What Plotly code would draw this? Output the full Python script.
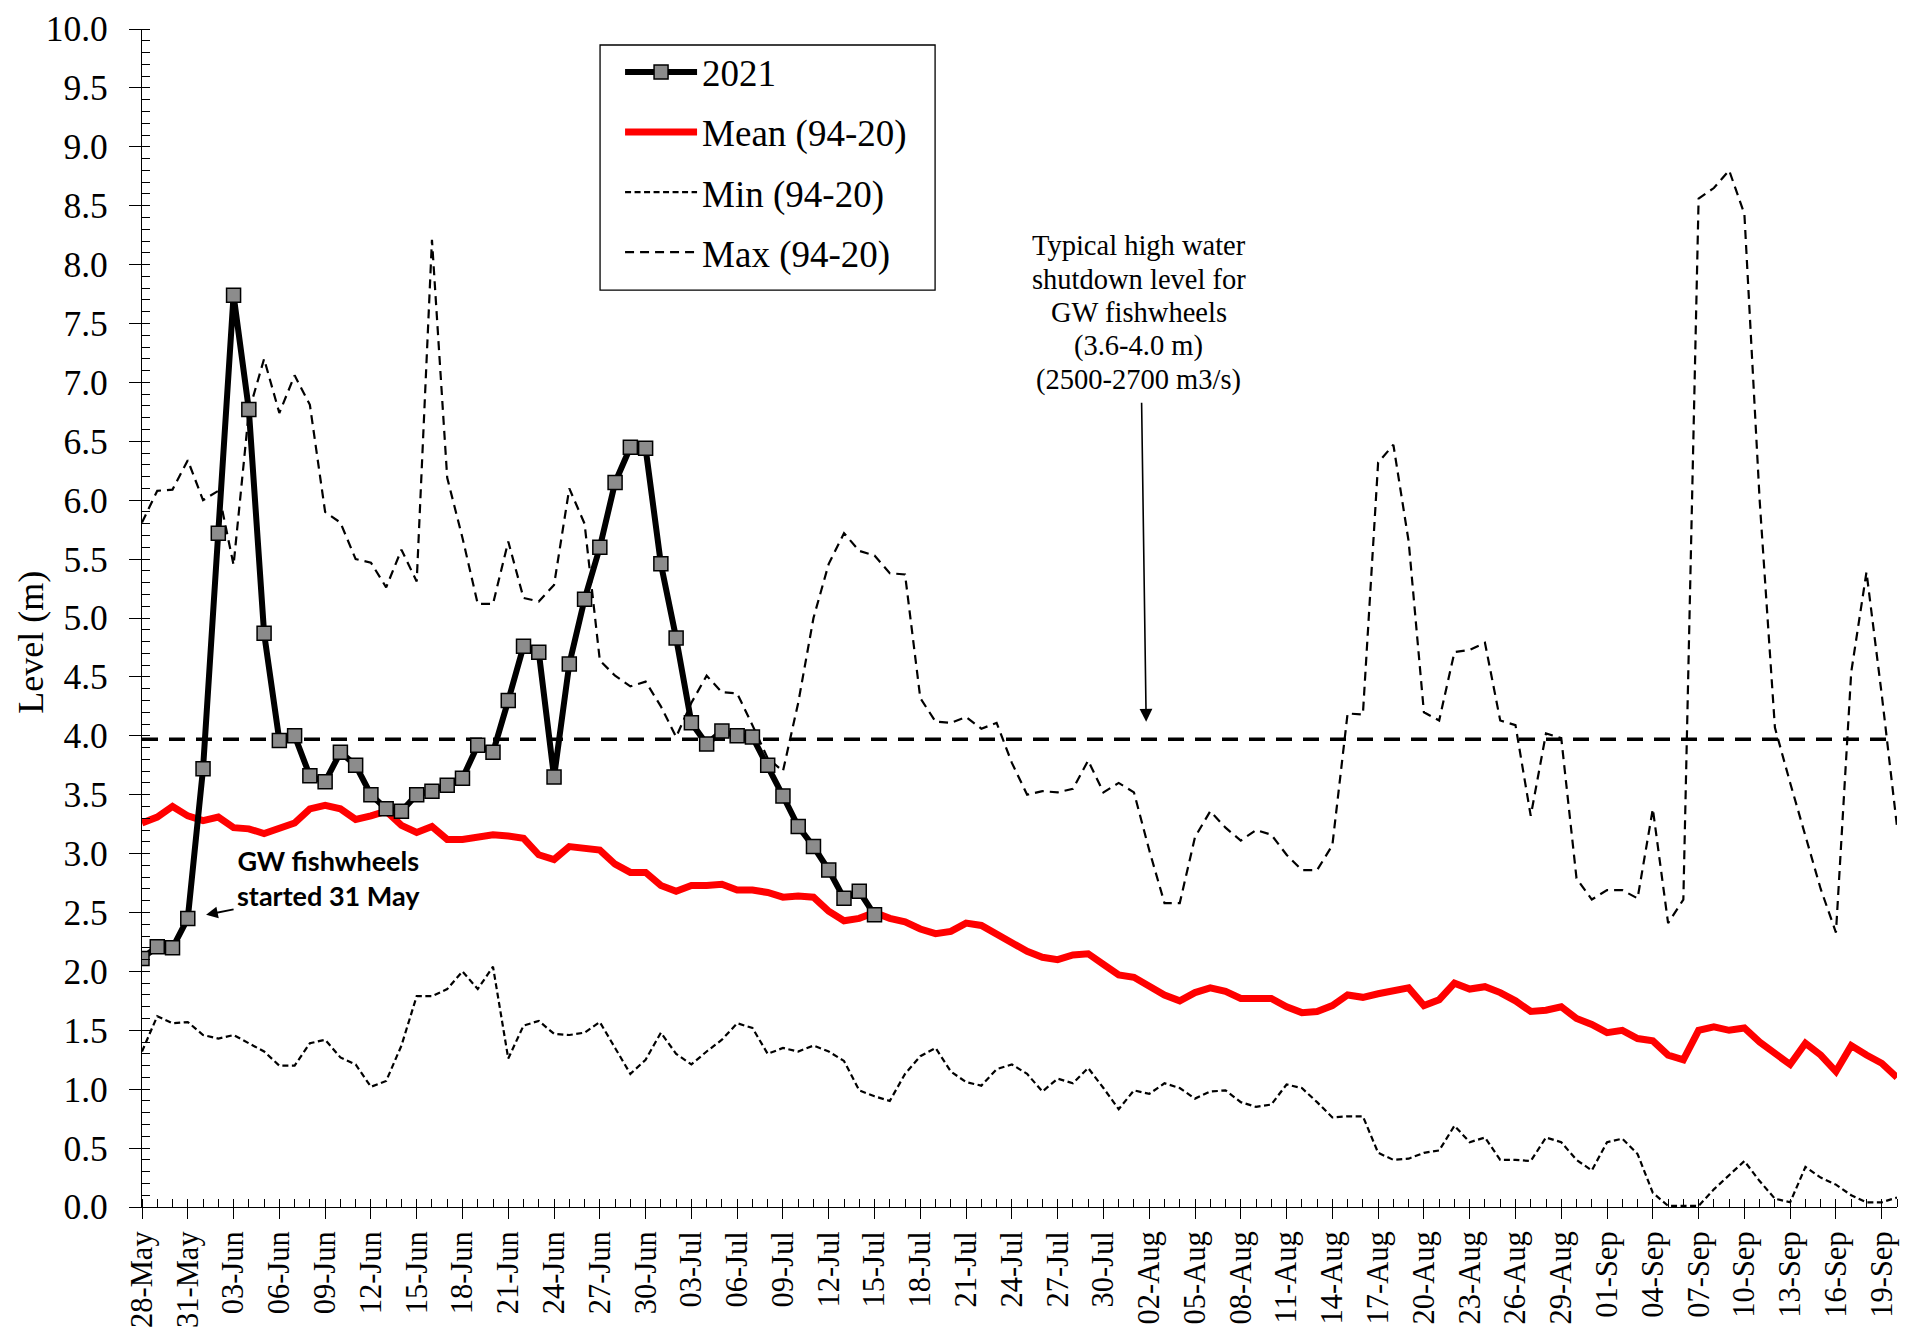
import pandas as pd
import plotly.graph_objects as go

# ---------------- data ----------------
start_date = "2021-05-28"
end_date = "2021-09-20"
dates = pd.date_range(start_date, end_date, freq="D")  # 116 days

level_2021 = [2.11, 2.21, 2.20, 2.45, 3.72, 5.72, 7.74, 6.77, 4.87, 3.96,
              4.00, 3.66, 3.61, 3.86, 3.75, 3.50, 3.38, 3.36, 3.50, 3.53,
              3.58, 3.64, 3.92, 3.86, 4.30, 4.76, 4.71, 3.65, 4.61, 5.16,
              5.60, 6.15, 6.45, 6.44, 5.46, 4.83, 4.11, 3.93, 4.04, 4.00,
              3.99, 3.75, 3.49, 3.23, 3.06, 2.86, 2.62, 2.68, 2.48]

level_mean = [3.26, 3.31, 3.40, 3.32, 3.28, 3.31, 3.22, 3.21, 3.17, 3.21,
              3.26, 3.38, 3.41, 3.38, 3.29, 3.32, 3.36, 3.24, 3.18, 3.23,
              3.12, 3.12, 3.14, 3.16, 3.15, 3.13, 2.99, 2.95, 3.06, 3.04,
              3.03, 2.91, 2.84, 2.84, 2.73, 2.68, 2.73, 2.73, 2.74, 2.69,
              2.69, 2.67, 2.63, 2.64, 2.63, 2.51, 2.43, 2.45, 2.50, 2.45,
              2.42, 2.36, 2.32, 2.34, 2.41, 2.39, 2.32, 2.24, 2.17, 2.12,
              2.10, 2.14, 2.15, 2.06, 1.97, 1.95, 1.87, 1.80, 1.75, 1.82,
              1.86, 1.83, 1.77, 1.77, 1.77, 1.70, 1.65, 1.66, 1.71, 1.80,
              1.78, 1.81, 1.84, 1.86, 1.71, 1.76, 1.90, 1.85, 1.87, 1.82,
              1.75, 1.66, 1.67, 1.70, 1.60, 1.55, 1.48, 1.50, 1.43, 1.41,
              1.29, 1.25, 1.50, 1.53, 1.50, 1.52, 1.40, 1.30, 1.21, 1.39,
              1.29, 1.15, 1.37, 1.29, 1.22, 1.10]

level_min = [1.32, 1.62, 1.56, 1.57, 1.46, 1.43, 1.46, 1.39, 1.32, 1.20,
             1.20, 1.39, 1.42, 1.27, 1.21, 1.02, 1.07, 1.37, 1.79, 1.79,
             1.85, 2.00, 1.85, 2.04, 1.26, 1.54, 1.58, 1.47, 1.46, 1.48,
             1.57, 1.35, 1.13, 1.25, 1.48, 1.30, 1.21, 1.32, 1.42, 1.56,
             1.52, 1.30, 1.35, 1.32, 1.37, 1.32, 1.24, 0.99, 0.94, 0.90,
             1.13, 1.28, 1.35, 1.15, 1.06, 1.03, 1.17, 1.21, 1.13, 0.98,
             1.09, 1.05, 1.18, 1.01, 0.83, 0.99, 0.96, 1.05, 1.01, 0.92,
             0.98, 0.99, 0.89, 0.85, 0.87, 1.04, 1.01, 0.89, 0.76, 0.77,
             0.77, 0.46, 0.40, 0.41, 0.46, 0.48, 0.69, 0.55, 0.59, 0.40,
             0.40, 0.39, 0.59, 0.55, 0.40, 0.31, 0.55, 0.58, 0.45, 0.12,
             0.01, 0.01, 0.01, 0.15, 0.27, 0.39, 0.22, 0.07, 0.04, 0.34,
             0.25, 0.19, 0.10, 0.04, 0.04, 0.08]

level_max = [5.81, 6.08, 6.09, 6.34, 6.00, 6.08, 5.45, 6.75, 7.20, 6.74,
             7.06, 6.81, 5.90, 5.81, 5.50, 5.47, 5.26, 5.58, 5.31, 8.21,
             6.19, 5.68, 5.12, 5.12, 5.65, 5.17, 5.14, 5.28, 6.10, 5.80,
             4.64, 4.51, 4.42, 4.46, 4.25, 3.99, 4.28, 4.51, 4.37, 4.36,
             4.09, 3.81, 3.70, 4.28, 5.00, 5.46, 5.72, 5.57, 5.53, 5.38,
             5.37, 4.32, 4.12, 4.11, 4.16, 4.06, 4.11, 3.77, 3.50, 3.53,
             3.52, 3.55, 3.79, 3.52, 3.60, 3.52, 3.03, 2.58, 2.58, 3.14,
             3.36, 3.22, 3.11, 3.20, 3.16, 2.99, 2.86, 2.86, 3.07, 4.19,
             4.18, 6.32, 6.47, 5.65, 4.20, 4.13, 4.71, 4.73, 4.79, 4.13,
             4.09, 3.32, 4.02, 3.98, 2.79, 2.61, 2.69, 2.69, 2.62, 3.38,
             2.41, 2.61, 8.56, 8.65, 8.80, 8.43, 6.00, 4.07, 3.60, 3.15,
             2.70, 2.33, 4.54, 5.39, 4.35, 3.23]

shutdown_level = 3.97

series_names = ["2021", "Mean (94-20)", "Min (94-20)", "Max (94-20)"]

shutdown_text_lines = ["Typical high water", "shutdown level for", "GW fishwheels",
                       "(3.6-4.0 m)", "(2500-2700 m3/s)"]

# ---------------- figure ----------------
SERIF = "Liberation Serif"
day = pd.Timedelta(days=1)
t0 = pd.Timestamp(start_date)

fig = go.Figure()

fig.add_trace(go.Scatter(
    x=dates, y=[shutdown_level] * len(dates), mode="lines",
    line=dict(color="black", width=3.5, dash="16px,11px"),
    showlegend=False, hoverinfo="skip"))

fig.add_trace(go.Scatter(
    x=dates, y=level_max, mode="lines", name=series_names[3],
    line=dict(color="black", width=2.2, dash="9px,6px"),
    legendrank=4, legendgroup="d"))

fig.add_trace(go.Scatter(
    x=dates, y=level_min, mode="lines", name=series_names[2],
    line=dict(color="black", width=2.2, dash="6px,3.5px"),
    legendrank=3, legendgroup="c"))

fig.add_trace(go.Scatter(
    x=dates, y=level_mean, mode="lines", name=series_names[1],
    line=dict(color="#ff0000", width=7),
    legendrank=2, legendgroup="b"))

fig.add_trace(go.Scatter(
    x=dates[:len(level_2021)], y=level_2021, mode="lines+markers",
    name=series_names[0],
    line=dict(color="black", width=6),
    marker=dict(symbol="square", size=14, color="#8c8c8c",
                line=dict(color="black", width=1.5)),
    legendrank=1, legendgroup="a"))

fig.update_layout(
    width=1917, height=1324,
    margin=dict(l=134, r=28, t=21, b=125),
    paper_bgcolor="white", plot_bgcolor="white",
    font=dict(family=SERIF, color="black"),
    legend=dict(
        x=0.2724, y=0.9895, xanchor="left", yanchor="top",
        bgcolor="rgba(0,0,0,0)", borderwidth=0,
        font=dict(family=SERIF, size=37, color="black"),
        itemwidth=72, tracegroupgap=9, traceorder="grouped",
    ),
    showlegend=True,
)

# legend frame
fig.add_shape(type="rect", xref="paper", yref="paper",
              x0=0.261, x1=0.4519, y0=0.7784, y1=0.9864,
              fillcolor="white", line=dict(color="black", width=1.3),
              layer="above")

fig.update_xaxes(
    type="date", automargin=False,
    range=[t0, pd.Timestamp(end_date)],
    tick0=start_date, dtick=3 * 86400000,
    tickformat="%d-%b", tickangle=-90,
    tickfont=dict(family=SERIF, size=30.5, color="black"),
    ticklabeloverflow="allow",
    showline=True, linecolor="black", linewidth=1.3,
    ticks="outside", ticklen=11, tickcolor="black", tickwidth=1.3,
    minor=dict(dtick=86400000, ticks="inside", ticklen=8,
               tickcolor="black", tickwidth=1),
    showgrid=False, zeroline=False,
)

fig.update_yaxes(
    range=[0, 10], dtick=0.5, tickformat=".1f", automargin=False,
    tickfont=dict(family=SERIF, size=35.5, color="black"),
    ticklabeloverflow="allow",
    showline=True, linecolor="black", linewidth=1.3,
    ticks="outside", ticklen=12, tickcolor="black", tickwidth=1.3,
    ticklabelstandoff=14,
    minor=dict(dtick=0.1, ticks="inside", ticklen=8,
               tickcolor="black", tickwidth=1),
    showgrid=False, zeroline=False,
)

# y axis title
fig.add_annotation(
    x=-0.0634, y=0.4796, xref="paper", yref="paper",
    text="Level (m)", textangle=-90, showarrow=False,
    xanchor="center", yanchor="middle",
    font=dict(family=SERIF, size=36, color="black"))

# shutdown level annotation (one line per annotation for tight line spacing)
for i, line in enumerate(shutdown_text_lines):
    fig.add_annotation(
        x=t0 + 65.3 * day, y=8.16 - i * 0.285, xref="x", yref="y",
        text=line, showarrow=False, yanchor="middle", xanchor="center",
        font=dict(family=SERIF, size=28.5, color="black"))

fig.add_annotation(
    x=t0 + 65.8 * day, y=4.12, xref="x", yref="y",
    ax=t0 + 65.5 * day, ay=6.84, axref="x", ayref="y",
    text="", showarrow=True, arrowhead=2, arrowsize=1.6, arrowwidth=1.6,
    arrowcolor="black")

# fishwheel start annotation
fig.add_annotation(
    x=t0 + 12.2 * day, y=2.79, xref="x", yref="y",
    text="<b>GW fishwheels<br>started 31 May</b>",
    showarrow=False, xanchor="center", yanchor="middle",
    font=dict(family="Lato", size=27, color="black"), align="center")

fig.add_annotation(
    x=t0 + 4.2 * day, y=2.48, xref="x", yref="y",
    ax=t0 + 6.1 * day, ay=2.53, axref="x", ayref="y",
    text="", showarrow=True, arrowhead=2, arrowsize=1.3, arrowwidth=1.8,
    arrowcolor="black")

fig.write_html("out.html")
